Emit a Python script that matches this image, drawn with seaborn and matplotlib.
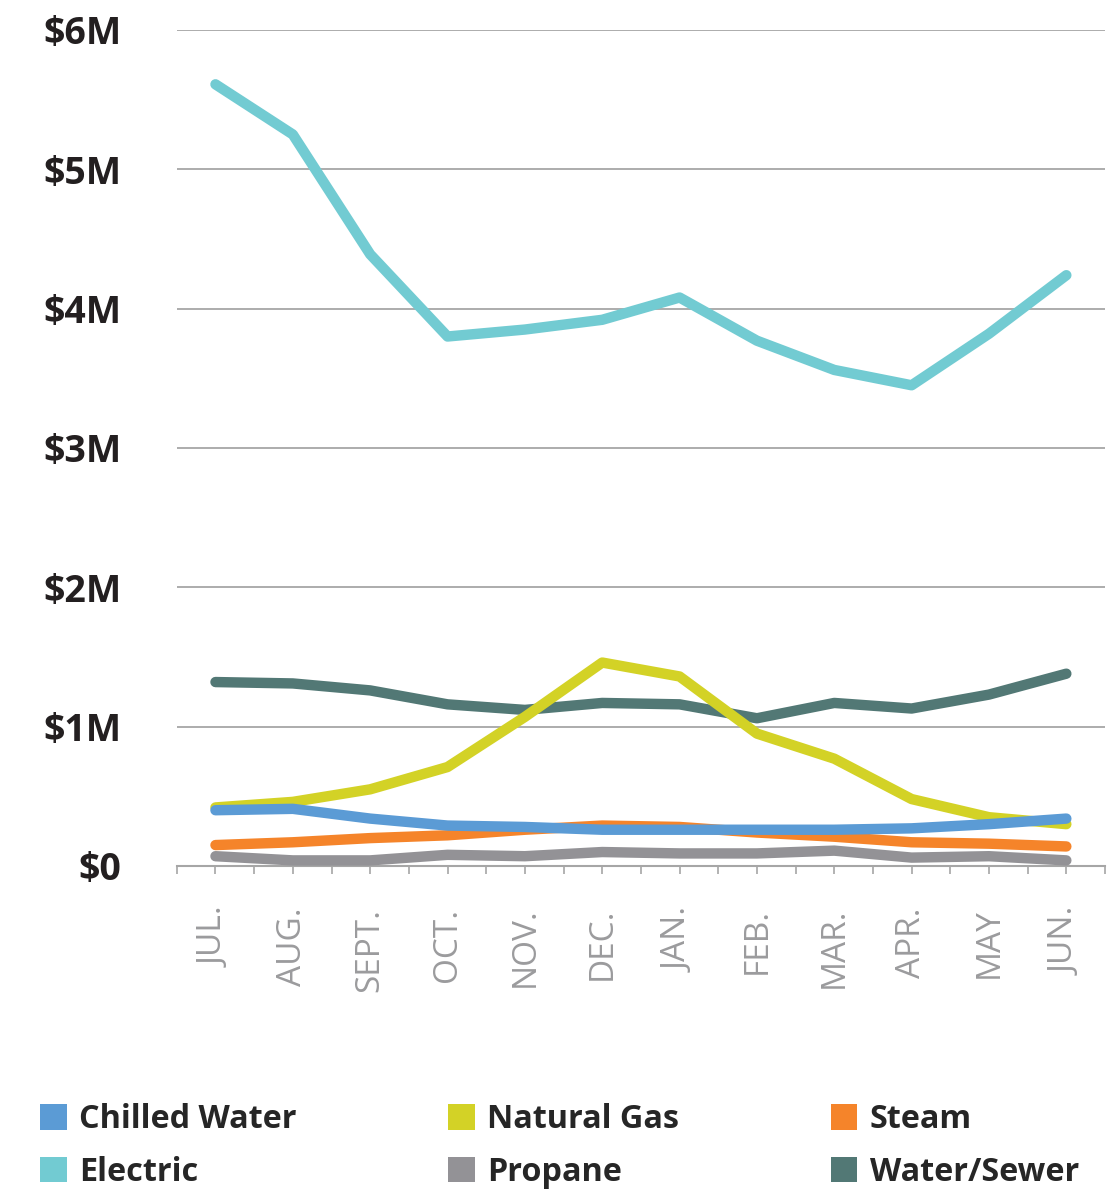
import pandas as pd
import seaborn as sns
import matplotlib.pyplot as plt
from matplotlib.patches import Patch

#%% Data (monthly utility cost, $M)
months = ['JUL.', 'AUG.', 'SEPT.', 'OCT.', 'NOV.', 'DEC.',
          'JAN.', 'FEB.', 'MAR.', 'APR.', 'MAY', 'JUN.']
chilled_water = [0.40, 0.41, 0.34, 0.29, 0.28, 0.26, 0.26, 0.26, 0.26, 0.27, 0.30, 0.34]
natural_gas = [0.42, 0.46, 0.55, 0.71, 1.07, 1.46, 1.36, 0.95, 0.77, 0.48, 0.35, 0.30]
steam = [0.15, 0.17, 0.20, 0.22, 0.26, 0.29, 0.28, 0.24, 0.21, 0.17, 0.16, 0.14]
electric = [5.61, 5.25, 4.39, 3.80, 3.85, 3.92, 4.08, 3.77, 3.56, 3.45, 3.82, 4.24]
propane = [0.07, 0.04, 0.04, 0.08, 0.07, 0.10, 0.09, 0.09, 0.11, 0.06, 0.07, 0.04]
water_sewer = [1.32, 1.31, 1.26, 1.16, 1.12, 1.17, 1.16, 1.06, 1.17, 1.13, 1.23, 1.38]

y_tick_labels = [r'\$0', r'\$1M', r'\$2M', r'\$3M', r'\$4M', r'\$5M', r'\$6M']

colours = {'Chilled Water': '#5b9bd5', 'Natural Gas': '#d3d226', 'Steam': '#f5842a',
           'Electric': '#72cbd2', 'Propane': '#939296', 'Water/Sewer': '#527875'}
# legend fills column by column: this gives rows Chilled Water/Natural Gas/Steam, Electric/Propane/Water-Sewer
legend_order = ['Chilled Water', 'Electric', 'Natural Gas', 'Propane', 'Steam', 'Water/Sewer']
draw_order = ['Water/Sewer', 'Propane', 'Steam', 'Natural Gas', 'Chilled Water', 'Electric']

#%% long form
wide = pd.DataFrame({'Month': months, 'Chilled Water': chilled_water, 'Natural Gas': natural_gas,
                     'Steam': steam, 'Electric': electric, 'Propane': propane,
                     'Water/Sewer': water_sewer})
long_form = pd.melt(wide, id_vars='Month', var_name='Utility', value_name='Cost')

#%% Plot
sns.set_style('white')
plt.rcParams['font.family'] = ['Open Sans', 'DejaVu Sans']

fig = plt.figure(figsize=(11.19, 11.9), dpi=100)
ax = fig.add_axes([0.158, 0.2723, 0.8295, 0.7025])

for i, name in enumerate(draw_order):
    sns.lineplot(data=long_form[long_form.Utility == name], x='Month', y='Cost',
                 color=colours[name], linewidth=7.5, ax=ax, legend=False,
                 solid_capstyle='round', zorder=3 + i, sort=False)

ax.set_xlim(-0.5, 11.5)
ax.set_ylim(0, 6)
ax.set_yticks(range(7))
ax.set_yticklabels(y_tick_labels, fontsize=27, fontweight='bold', color='#231f20')
ax.set_xticks(range(12))
ax.set_xticklabels(months, rotation=90, fontsize=24, color='#9b9b9d')
ax.set_xticks([x + 0.5 for x in range(-1, 12)], minor=True)
ax.tick_params(axis='y', length=0, pad=40)
ax.tick_params(axis='x', which='both', direction='out', length=6, width=1.2,
               color='#a6a6a6', bottom=True, pad=24)
ax.set_xlabel('')
ax.set_ylabel('')
ax.grid(axis='y', color='#a6a6a6', linewidth=1.3, zorder=1)
ax.set_axisbelow(True)
for side in ['left', 'right', 'top']:
    ax.spines[side].set_visible(False)
ax.spines['bottom'].set_color('#a6a6a6')
ax.spines['bottom'].set_linewidth(1.5)

handles = [Patch(facecolor=colours[n], edgecolor='none', label=n) for n in legend_order]
fig.legend(handles=handles, ncol=3, loc='upper left', bbox_to_anchor=(0.0356, 0.073),
           frameon=False, prop={'family': 'Open Sans', 'weight': 'bold', 'size': 23.3},
           handlelength=0.83, handleheight=0.83, handletextpad=0.38,
           columnspacing=4.68, labelspacing=0.6, borderpad=0, borderaxespad=0)

plt.savefig('out.png', dpi=100)
